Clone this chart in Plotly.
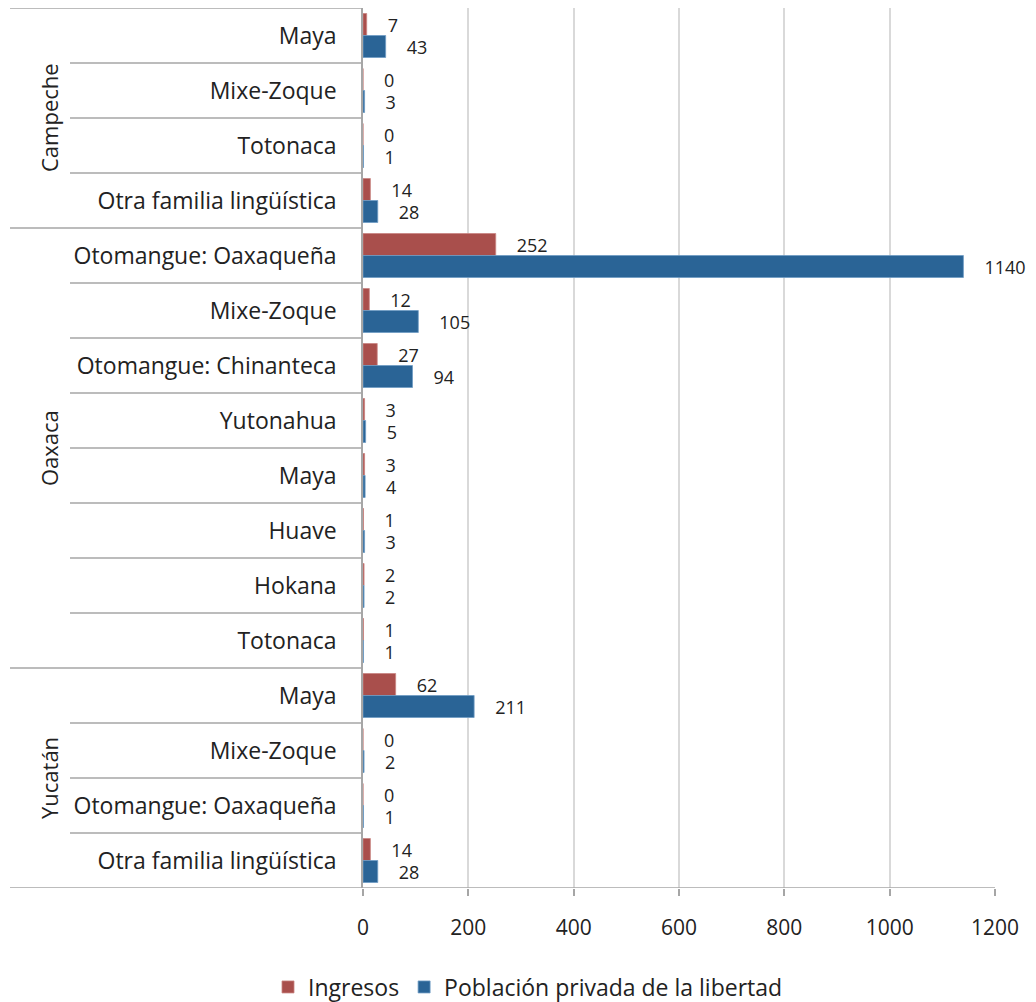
import plotly.graph_objects as go

groups = ["Campeche", "Oaxaca", "Yucatán"]
categories = [
    ["Maya", "Mixe-Zoque", "Totonaca", "Otra familia lingüística"],
    ["Otomangue: Oaxaqueña", "Mixe-Zoque", "Otomangue: Chinanteca", "Yutonahua",
     "Maya", "Huave", "Hokana", "Totonaca"],
    ["Maya", "Mixe-Zoque", "Otomangue: Oaxaqueña", "Otra familia lingüística"],
]
ingresos = [
    [7, 0, 0, 14],
    [252, 12, 27, 3, 3, 1, 2, 1],
    [62, 0, 0, 14],
]
poblacion = [
    [43, 3, 1, 28],
    [1140, 105, 94, 5, 4, 3, 2, 1],
    [211, 2, 1, 28],
]
x_ticks = [0, 200, 400, 600, 800, 1000, 1200]

RED = "#a94f4c"
BLUE = "#2a6496"
FONT = "Open Sans"
TXT = "#222"

labels, ing, pob = [], [], []
for cats, a, b in zip(categories, ingresos, poblacion):
    labels += cats
    ing += a
    pob += b
idx = list(range(len(labels)))

pad = "\u2002\u2002"
fig = go.Figure()
fig.add_trace(go.Bar(
    y=idx, x=ing, orientation="h", name="Ingresos",
    marker=dict(color=RED, line=dict(color="#c98481", width=0.8)),
    text=[pad + str(v) for v in ing], textposition="outside",
    outsidetextfont=dict(family=FONT, size=18, color=TXT),
    cliponaxis=False,
))
fig.add_trace(go.Bar(
    y=idx, x=pob, orientation="h", name="Población privada de la libertad",
    marker=dict(color=BLUE, line=dict(color="#6f9cc4", width=0.8)),
    text=[pad + str(v) for v in pob], textposition="outside",
    outsidetextfont=dict(family=FONT, size=18, color=TXT),
    cliponaxis=False,
))

L, R, T, B = 363, 41, 8, 114
W, H = 1036, 1002
plot_w = W - L - R
def px_to_paper(px):
    return (px - L) / plot_w

shapes = []
line_col = "#a6a6a6"
start = 0
boundaries_group = [-0.5]
for cats in categories:
    start += len(cats)
    boundaries_group.append(start - 0.5)
for yb in boundaries_group[:-1]:
    shapes.append(dict(type="line", xref="paper", yref="y", x0=px_to_paper(10), x1=0,
                       y0=yb, y1=yb, line=dict(color=line_col, width=1.5)))
shapes.append(dict(type="line", xref="paper", yref="y", x0=px_to_paper(10), x1=1,
                   y0=boundaries_group[-1], y1=boundaries_group[-1],
                   line=dict(color=line_col, width=1.5)))
for i in range(len(labels) - 1):
    yb = i + 0.5
    if yb in boundaries_group:
        continue
    shapes.append(dict(type="line", xref="paper", yref="y", x0=px_to_paper(70), x1=0,
                       y0=yb, y1=yb, line=dict(color=line_col, width=1.5)))

annotations = []
start = 0
for g, cats in zip(groups, categories):
    center = start + (len(cats) - 1) / 2
    annotations.append(dict(text=g, xref="paper", yref="y", x=px_to_paper(32), y=center,
                            showarrow=False, textangle=-90,
                            font=dict(family=FONT, size=22, color=TXT)))
    start += len(cats)

fig.update_layout(
    width=W, height=H,
    margin=dict(l=L, r=R, t=T, b=B, autoexpand=False),
    plot_bgcolor="white", paper_bgcolor="white",
    barmode="group", bargap=0.2, bargroupgap=0,
    font=dict(family=FONT, size=22, color=TXT),
    showlegend=True,
    legend=dict(orientation="h", x=px_to_paper(528), xanchor="center",
                yref="container", y=(H - 987) / H, yanchor="middle",
                font=dict(family=FONT, size=23, color=TXT),
                itemwidth=30, traceorder="normal"),
    shapes=shapes, annotations=annotations,
)
fig.update_traces(constraintext="none")
fig.update_xaxes(range=[0, 1200], tickvals=x_ticks, showgrid=True, gridcolor="#d9d9d9",
                 gridwidth=2, zeroline=False, showline=False, ticks="outside",
                 ticklen=7, tickcolor=line_col, tickwidth=1.5, ticklabelstandoff=14,
                 tickfont=dict(family=FONT, size=21, color=TXT))
fig.update_yaxes(range=[len(labels) - 0.5, -0.5], tickvals=idx, ticktext=labels,
                 showgrid=False, zeroline=False, showline=True, linecolor=line_col,
                 linewidth=1.5, ticks="", ticklabelstandoff=20,
                 tickfont=dict(family=FONT, size=23, color=TXT))

fig.write_html("out.html", config={"displayModeBar": False},
               post_script="document.body.style.margin='0';document.body.style.overflow='hidden';")
